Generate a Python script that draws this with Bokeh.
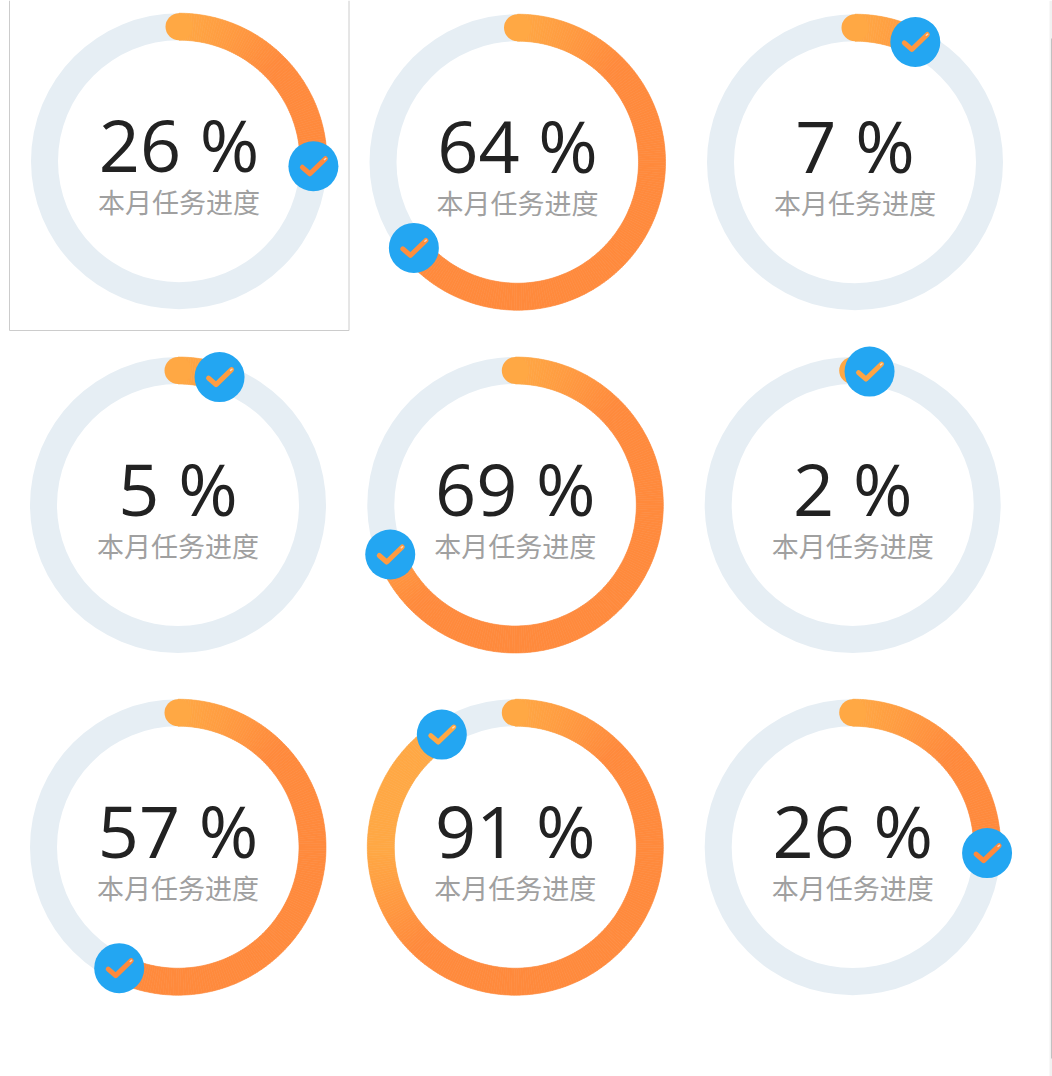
import math
from bokeh.embed import file_html
from bokeh.resources import INLINE
from bokeh.models import Range1d
from bokeh.plotting import figure
from bokeh.core.properties import value

# --- chart values
labels = ["26 %", "64 %", "7 %", "5 %", "69 %", "2 %", "57 %", "91 %", "26 %"]
progress = [25.6, 64, 7.4, 5, 69, 2, 57.2, 90.8, 25.7]
subtitle = "本月任务进度"

# --- layout
centers_x = [178.5, 517, 854.5, 177.5, 514.8, 852.2, 177.5, 514.8, 852.2]
centers_y = [160.7, 161.7, 161.7, 504.5, 504.5, 504.5, 846.7, 846.7, 846.7]
R_OUT, R_IN = 148, 121
R_MID = (R_OUT + R_IN) / 2
BADGE_R = 25
TRACK = "#e6eef4"
BLUE = "#23a6f2"
LIGHT = (255, 168, 68)
DARK = (255, 138, 60)
CHECK_DX = [-11, -3.5, 12]
CHECK_DY = [1, 7.5, -7.5]


def grad(dx, dy):
    t = min(1.0, max(0.0, -(dx + dy) / R_MID))
    return "#%02x%02x%02x" % tuple(round(d + (l - d) * t) for l, d in zip(LIGHT, DARK))


def polar(cx, cy, r, deg):
    a = math.radians(deg)
    return cx + r * math.sin(a), cy - r * math.cos(a)


p = figure(width=1052, height=1076, x_range=Range1d(0, 1052), y_range=Range1d(1076, 0),
           output_backend="svg", toolbar_location=None, min_border=0,
           background_fill_color="white", border_fill_color="white")
p.axis.visible = False
p.grid.visible = False
p.outline_line_color = None

# frame around the first gauge
p.line([9, 9, 348.5, 348.5], [0, 330, 330, 0], line_color="#cccccc", line_width=1)

# scrollbar strip
p.quad(left=[1049], right=[1052], top=[0], bottom=[1076], fill_color="#f1f1f1", line_color=None)
p.quad(left=[1050.5], right=[1052], top=[38], bottom=[1058], fill_color="#c1c1c1", line_color=None)

# tracks
p.annulus(x=centers_x, y=centers_y, inner_radius=R_IN, outer_radius=R_OUT,
          fill_color=TRACK, line_color=None)

# gradient arcs built from small sectors
xs, ys, cols = [], [], []
for cx, cy, v in zip(centers_x, centers_y, progress):
    end = v * 3.6
    n = max(2, int(end))
    for i in range(n):
        a0 = end * i / n
        a1 = end * (i + 1) / n
        pts = [polar(cx, cy, R_OUT, a0), polar(cx, cy, R_OUT, a1),
               polar(cx, cy, R_IN, a1), polar(cx, cy, R_IN, a0)]
        xs.append([q[0] for q in pts])
        ys.append([q[1] for q in pts])
        mx, my = polar(0, 0, R_MID, (a0 + a1) / 2)
        cols.append(grad(mx, my))
p.patches(xs, ys, fill_color=cols, line_color=cols, line_width=0.6)

# round start caps
p.circle(x=centers_x, y=[y - R_MID for y in centers_y], radius=(R_OUT - R_IN) / 2,
         fill_color=grad(0, -R_MID), line_color=None)

# badges with check marks
bx, by, mxs, mys, mcols, tipx0, tipy0, tipx1, tipy1 = [], [], [], [], [], [], [], [], []
for cx, cy, v in zip(centers_x, centers_y, progress):
    x, y = polar(cx, cy, R_MID, v * 3.6)
    bx.append(x)
    by.append(y)
    mxs.append([x + d for d in CHECK_DX])
    mys.append([y + d for d in CHECK_DY])
    ox, oy = polar(0, 0, R_MID, v * 3.6)
    mcols.append(grad(ox, oy))
    tipx0.append(x + CHECK_DX[2] - 1.0)
    tipy0.append(y + CHECK_DY[2] + 0.8)
    tipx1.append(x + CHECK_DX[2] + 0.4)
    tipy1.append(y + CHECK_DY[2] - 0.3)
p.circle(x=bx, y=by, radius=BADGE_R, fill_color=BLUE, line_color=None)
p.multi_line(mxs, mys, line_color=mcols, line_width=5, line_cap="round", line_join="round")
p.segment(tipx0, tipy0, tipx1, tipy1, line_color="#ffffff", line_width=1.5, line_alpha=0.6, line_cap="round")

# texts
p.text(x=centers_x, y=[y - 17 for y in centers_y], text=labels,
       text_font=value("Open Sans"), text_font_size="72px", text_color="#222222",
       text_align="center", text_baseline="alphabetic")
p.text(x=centers_x, y=[y + 40.5 for y in centers_y], text=[subtitle] * len(labels),
       text_font=value("Noto Sans CJK SC"), text_font_size="27px", text_color="#a0a0a0",
       text_align="center", text_baseline="middle")

open("out.html", "w").write(file_html(p, INLINE))
